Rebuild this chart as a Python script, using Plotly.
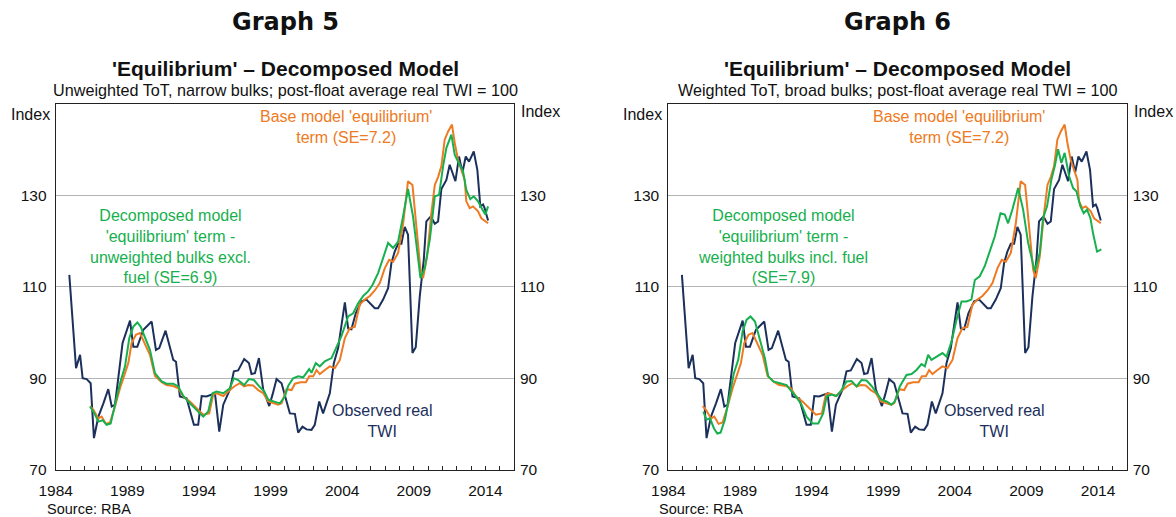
import plotly.graph_objects as go

# ---------------- data (decimal years, index values) ----------------
twi_x = [1984.95, 1985.42, 1985.70, 1985.88, 1986.16, 1986.44, 1986.67, 1986.98, 1987.33, 1987.67,
         1987.91, 1988.14, 1988.67, 1989.19, 1989.42, 1989.70, 1990.12, 1990.70, 1991.00, 1991.23,
         1991.67, 1992.21, 1992.40, 1992.67, 1993.14, 1993.65, 1993.95, 1994.19, 1994.53, 1994.88,
         1995.12, 1995.42, 1995.70, 1996.16, 1996.44, 1996.74, 1997.16, 1997.49, 1997.67, 1997.91,
         1998.19, 1998.49, 1998.91, 1999.14, 1999.42, 1999.77, 2000.00, 2000.35, 2000.70, 2000.93,
         2001.23, 2001.51, 2001.86, 2002.09, 2002.40, 2002.67, 2003.14, 2003.42, 2003.72, 2004.19,
         2004.42, 2004.65, 2004.95, 2005.35, 2005.70, 2005.98, 2006.28, 2006.51, 2006.86, 2007.21,
         2007.44, 2007.67, 2007.91, 2008.14, 2008.37, 2008.60, 2008.91, 2009.14, 2009.42, 2009.70,
         2009.88, 2010.19, 2010.47, 2010.70, 2010.93, 2011.28, 2011.51, 2011.91, 2012.16, 2012.40,
         2012.63, 2012.86, 2013.19, 2013.44, 2013.65, 2013.84, 2013.95, 2014.19]
twi_y = [112.6, 92.2, 95.1, 90.0, 89.8, 88.9, 76.9, 81.6, 84.5, 87.6,
         83.8, 84.2, 97.7, 102.6, 96.9, 96.9, 100.6, 102.4, 96.2, 96.6,
         100.4, 94.0, 93.6, 86.0, 85.6, 79.8, 79.8, 86.1, 86.0, 86.5,
         86.7, 78.3, 84.2, 87.5, 91.5, 91.7, 94.2, 93.3, 90.9, 91.1,
         94.4, 87.5, 83.9, 86.4, 89.8, 88.9, 86.4, 82.3, 82.2, 78.1,
         79.4, 78.8, 78.7, 79.8, 84.9, 82.3, 86.7, 93.3, 96.6, 106.6,
         100.9, 100.7, 104.2, 106.8, 107.2, 106.3, 105.3, 105.3, 107.2, 109.7,
         115.2, 117.7, 119.4, 119.4, 123.1, 121.4, 95.5, 96.8, 107.9, 115.9,
         124.3, 125.4, 123.8, 124.3, 131.4, 133.4, 136.7, 133.1, 138.5, 135.0,
         138.5, 137.4, 139.6, 135.6, 127.6, 128.0, 127.2, 124.5]

base_x = [1986.40, 1986.63, 1986.98, 1987.21, 1987.51, 1987.79, 1988.14, 1988.49, 1988.84, 1989.07,
          1989.30, 1989.60, 1989.88, 1990.19, 1990.58, 1990.93, 1991.40, 1991.74, 1992.21, 1992.56,
          1992.91, 1993.37, 1993.84, 1994.30, 1994.72, 1995.00, 1995.23, 1995.70, 1996.16, 1996.51,
          1996.86, 1997.16, 1997.44, 1997.79, 1998.14, 1998.49, 1998.84, 1999.19, 1999.53, 1999.77,
          2000.12, 2000.47, 2000.70, 2001.09, 2001.47, 2001.70, 2001.98, 2002.21, 2002.44, 2002.79,
          2003.14, 2003.49, 2003.84, 2004.19, 2004.53, 2004.88, 2005.23, 2005.58, 2005.93, 2006.28,
          2006.63, 2006.98, 2007.28, 2007.56, 2007.91, 2008.26, 2008.60, 2008.91, 2009.19, 2009.47,
          2009.65, 2009.93, 2010.23, 2010.47, 2010.70, 2010.93, 2011.16, 2011.40, 2011.67, 2011.86,
          2012.09, 2012.33, 2012.56, 2012.67, 2012.91, 2013.14, 2013.49, 2013.72, 2013.95, 2014.19]
base_y = [83.9, 83.1, 81.2, 81.6, 80.0, 80.3, 83.8, 87.8, 91.1, 93.3,
          97.7, 99.5, 99.9, 97.7, 95.1, 90.5, 89.1, 88.5, 88.3, 87.8,
          86.0, 84.9, 83.4, 82.0, 82.3, 86.5, 86.7, 86.1, 87.4, 88.3,
          88.9, 88.2, 88.5, 88.4, 87.4, 86.7, 84.9, 84.5, 84.2, 84.5,
          87.6, 87.4, 88.8, 89.1, 89.1, 90.4, 90.4, 91.8, 90.9, 91.8,
          92.6, 92.2, 94.0, 98.8, 100.9, 101.2, 106.1, 107.2, 108.0, 109.2,
          110.8, 114.1, 115.9, 115.5, 117.4, 123.9, 133.1, 132.3, 123.2, 113.7,
          111.9, 116.6, 126.1, 132.3, 134.0, 136.4, 142.2, 144.0, 145.5, 141.5,
          137.8, 135.6, 133.4, 128.7, 127.2, 127.6, 126.5, 125.0, 124.5, 123.9]

unw_x = [1986.40, 1986.70, 1986.98, 1987.28, 1987.56, 1987.84, 1988.14, 1988.49, 1988.84, 1989.14,
         1989.42, 1989.70, 1989.93, 1990.23, 1990.58, 1990.93, 1991.40, 1991.74, 1992.21, 1992.56,
         1992.91, 1993.37, 1993.84, 1994.30, 1994.65, 1994.95, 1995.23, 1995.70, 1996.16, 1996.44,
         1996.74, 1997.16, 1997.49, 1997.84, 1998.21, 1998.56, 1998.84, 1999.23, 1999.65, 2000.00,
         2000.23, 2000.58, 2000.93, 2001.28, 2001.70, 2001.86, 2002.16, 2002.44, 2002.79, 2003.26,
         2003.60, 2003.95, 2004.42, 2004.77, 2005.12, 2005.47, 2005.81, 2006.12, 2006.51, 2006.86,
         2007.21, 2007.56, 2007.91, 2008.21, 2008.60, 2008.95, 2009.19, 2009.47, 2009.77, 2010.12,
         2010.47, 2010.77, 2011.05, 2011.28, 2011.63, 2011.86, 2012.09, 2012.44, 2012.67, 2012.95,
         2013.19, 2013.49, 2013.79, 2014.00, 2014.19]
unw_y = [83.8, 82.3, 80.5, 80.8, 79.8, 80.1, 84.2, 88.9, 92.6, 98.8,
         101.3, 102.2, 101.3, 98.8, 96.2, 91.1, 89.3, 88.8, 88.8, 88.2,
         86.1, 84.5, 83.1, 81.6, 82.7, 86.7, 87.1, 86.7, 87.8, 90.0,
         89.6, 88.5, 89.8, 89.6, 88.2, 87.1, 85.3, 84.9, 84.5, 86.0,
         88.3, 90.0, 90.4, 90.2, 92.0, 91.2, 93.3, 92.6, 93.7, 94.4,
         96.6, 99.2, 103.5, 104.2, 106.4, 108.0, 109.0, 110.4, 113.0, 116.3,
         119.6, 118.5, 119.9, 124.7, 131.4, 125.4, 119.6, 111.9, 114.1, 120.3,
         129.8, 130.1, 136.4, 140.4, 143.3, 138.9, 137.4, 135.3, 131.2, 129.2,
         129.8, 128.7, 126.9, 125.8, 127.6]

wtd_x = [1986.44, 1986.67, 1986.91, 1987.19, 1987.42, 1987.65, 1987.95, 1988.30, 1988.58, 1988.88,
         1989.19, 1989.47, 1989.74, 1990.05, 1990.40, 1990.74, 1990.98, 1991.33, 1991.79, 1992.26,
         1992.53, 1992.91, 1993.30, 1993.65, 1994.07, 1994.47, 1994.81, 1995.05, 1995.40, 1995.74,
         1996.09, 1996.44, 1996.79, 1997.14, 1997.49, 1997.84, 1998.19, 1998.53, 1998.88, 1999.23,
         1999.58, 1999.81, 2000.16, 2000.63, 2000.98, 2001.33, 2001.67, 2001.91, 2002.14, 2002.37,
         2002.72, 2003.14, 2003.42, 2003.77, 2004.12, 2004.47, 2004.81, 2005.16, 2005.40, 2005.74,
         2006.09, 2006.44, 2006.79, 2007.19, 2007.49, 2007.72, 2008.02, 2008.42, 2008.77, 2009.12,
         2009.58, 2009.93, 2010.16, 2010.44, 2010.74, 2010.98, 2011.21, 2011.44, 2011.67, 2011.98,
         2012.26, 2012.49, 2012.77, 2013.00, 2013.23, 2013.47, 2013.65, 2013.93, 2014.23]
wtd_y = [82.7, 80.9, 81.2, 79.0, 77.9, 78.1, 80.9, 86.7, 91.1, 94.0,
         100.3, 102.8, 103.5, 102.4, 98.4, 94.4, 90.4, 89.3, 88.9, 88.5,
         87.4, 86.0, 84.2, 81.6, 80.1, 80.1, 82.3, 86.0, 86.4, 86.1,
         87.4, 89.3, 89.4, 88.2, 89.6, 89.5, 88.3, 86.7, 85.3, 84.9,
         84.2, 84.9, 88.2, 90.7, 90.9, 91.8, 93.1, 92.6, 95.1, 94.0,
         94.7, 95.5, 94.7, 98.0, 102.8, 106.8, 106.8, 107.2, 111.5, 112.3,
         114.5, 117.7, 121.0, 126.1, 125.8, 123.9, 126.9, 131.6, 126.9, 119.6,
         113.4, 117.4, 125.0, 127.6, 133.4, 136.4, 140.1, 137.1, 139.3, 134.2,
         131.6, 130.9, 127.6, 126.1, 126.9, 125.0, 121.7, 117.7, 118.2]

x_labels = [1984, 1989, 1994, 1999, 2004, 2009, 2014]
y_ticks = [70, 90, 110, 130]
x_range = [1984, 2016]
y_range = [70, 150]

NAVY = "#1c305c"
ORANGE = "#ee7a22"
GREEN = "#17b04e"
FONT = "Liberation Sans, Arial, sans-serif"
TICK_SIZE = 15.5

fig = go.Figure()

def add_panel(xa, ya, ya2, green_x, green_y):
    fig.add_trace(go.Scatter(x=twi_x, y=twi_y, xaxis=xa, yaxis=ya, mode="lines",
                             line=dict(color=NAVY, width=2), showlegend=False))
    fig.add_trace(go.Scatter(x=base_x, y=base_y, xaxis=xa, yaxis=ya, mode="lines",
                             line=dict(color=ORANGE, width=2), showlegend=False))
    fig.add_trace(go.Scatter(x=green_x, y=green_y, xaxis=xa, yaxis=ya, mode="lines",
                             line=dict(color=GREEN, width=2), showlegend=False))
    # invisible copy so the right-hand axis is drawn
    fig.add_trace(go.Scatter(x=twi_x, y=twi_y, xaxis=xa, yaxis=ya2, mode="lines",
                             line=dict(color=NAVY, width=0), opacity=0,
                             hoverinfo="skip", showlegend=False))

add_panel("x", "y", "y2", unw_x, unw_y)
add_panel("x2", "y3", "y4", wtd_x, wtd_y)

W, H = 1176, 517
ydom = [1 - 469.6 / H, 1 - 104 / H]
dom1 = [55.7 / W, 514 / W]
dom2 = [668.3 / W, 1126.7 / W]

def xaxis(domain, anchor):
    return dict(domain=domain, anchor=anchor, range=x_range, tickmode="array",
                tickvals=x_labels, ticktext=[str(v) for v in x_labels], automargin=False,
                ticks="inside", ticklen=4, tickcolor="#222", showgrid=False, zeroline=False,
                showline=True, linecolor="#222", linewidth=1, mirror=True,
                ticklabelstandoff=7,
                tickfont=dict(family=FONT, size=TICK_SIZE, color="#111"),
                minor=dict(tickmode="linear", tick0=1984, dtick=1, ticks="inside",
                           ticklen=4, tickcolor="#222", showgrid=False))

def yaxis(anchor, side, overlay=None):
    d = dict(domain=ydom, anchor=anchor, range=y_range, tickmode="array", tickvals=y_ticks,
             ticks="", side=side, zeroline=False, automargin=False,
             tickfont=dict(family=FONT, size=TICK_SIZE, color="#111"), ticklabelstandoff=5)
    if overlay is None:
        d.update(showgrid=True, gridcolor="#b4b4b4", gridwidth=1, showline=True,
                 linecolor="#222", linewidth=1, mirror=True)
    else:
        d.update(overlaying=overlay, showgrid=False, showline=False)
    return d

fig.update_layout(
    width=W, height=H, autosize=False,
    margin=dict(l=0, r=0, t=0, b=0, pad=0),
    paper_bgcolor="white", plot_bgcolor="white",
    hovermode=False,
    xaxis=xaxis(dom1, "y"),
    yaxis=yaxis("x", "left"),
    yaxis2=yaxis("x", "right", "y"),
    xaxis2=xaxis(dom2, "y3"),
    yaxis3=yaxis("x2", "left"),
    yaxis4=yaxis("x2", "right", "y3"),
)

ann = []
def paper_text(text, x, y, size, xanchor="center", bold=False, family=FONT, color="#111"):
    ann.append(dict(text=("<b>%s</b>" % text) if bold else text, x=x / W, y=1 - y / H,
                    xref="paper", yref="paper", xanchor=xanchor, yanchor="middle",
                    showarrow=False, font=dict(family=family, size=size, color=color)))

panels = [
    dict(cx=285, left=55.7, right=514, graph="Graph 5",
         sub="Unweighted ToT, narrow bulks; post-float average real TWI = 100",
         xr="x", yr="y",
         green="Decomposed model<br>'equilibrium' term -<br>unweighted bulks excl.<br>fuel (SE=6.9)"),
    dict(cx=897.5, left=668.3, right=1126.7, graph="Graph 6",
         sub="Weighted ToT, broad bulks; post-float average real TWI = 100",
         xr="x2", yr="y3",
         green="Decomposed model<br>'equilibrium' term -<br>weighted bulks incl. fuel<br>(SE=7.9)"),
]
for p in panels:
    paper_text(p["graph"], p["cx"], 22, 24, bold=True, family="DejaVu Sans, Verdana, sans-serif")
    paper_text("'Equilibrium' – Decomposed Model", p["cx"], 69, 21, bold=True)
    paper_text(p["sub"], p["cx"], 90, 16.2, color="#111")
    paper_text("Index", p["left"] - 4, 115, 16, xanchor="right")
    paper_text("Index", p["right"] + 5, 111, 16, xanchor="left")
    paper_text("Source: RBA", p["left"] - 11, 509, 14.5, xanchor="left")
    for text, x, y, color in [
        ("Base model 'equilibrium'<br>term (SE=7.2)", 2004.29, 145.0, ORANGE),
        (p["green"], 1992.0, 118.8, GREEN),
        ("Observed real<br>TWI", 2006.8, 80.6, NAVY),
    ]:
        ann.append(dict(text=text, x=x, y=y, xref=p["xr"], yref=p["yr"], xanchor="center",
                        yanchor="middle", showarrow=False, align="center",
                        font=dict(family=FONT, size=16, color=color)))

fig.update_layout(annotations=ann)
fig.write_html("out.html", config={"displayModeBar": False, "staticPlot": True})

# remove the browser's default 8px page margin so the figure sits at the page origin
with open("out.html", "r", encoding="utf-8") as f:
    html = f.read()
html = html.replace("<head>", "<head><style>html,body{margin:0;padding:0;overflow:hidden;}</style>", 1)
with open("out.html", "w", encoding="utf-8") as f:
    f.write(html)
